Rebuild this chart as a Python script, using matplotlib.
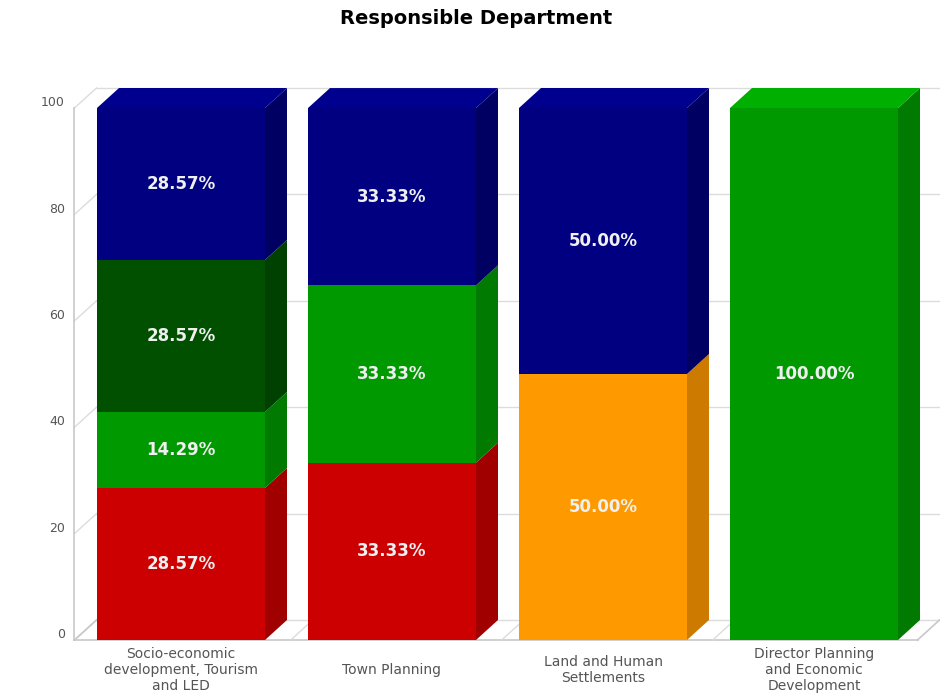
import numpy as np
import matplotlib.pyplot as plt
from matplotlib.patches import Polygon, Rectangle

# Datos del grafico (porcentajes apilados por departamento)
categories = [
    "Socio-economic\ndevelopment, Tourism\nand LED",
    "Town Planning",
    "Land and Human\nSettlements",
    "Director Planning\nand Economic\nDevelopment",
]
red_vals = [28.57, 33.33, 0.0, 0.0]
orange_vals = [0.0, 0.0, 50.00, 0.0]
green_vals = [14.29, 33.33, 0.0, 100.00]
darkgreen_vals = [28.57, 0.0, 0.0, 0.0]
navy_vals = [28.57, 33.33, 50.00, 0.0]
y_ticks = [0, 20, 40, 60, 80, 100]

# (frente, lado, tapa)
series = [
    (red_vals, "#CC0000", "#A00000", "#E00000"),
    (orange_vals, "#FF9900", "#CC7A00", "#FFAA22"),
    (green_vals, "#009900", "#007A00", "#00B000"),
    (darkgreen_vals, "#005000", "#004000", "#006000"),
    (navy_vals, "#000080", "#000062", "#00008F"),
]

W, H = 940, 694
fig = plt.figure(figsize=(W / 100, H / 100), dpi=100)
ax = fig.add_axes([0, 0, 1, 1])

# escalas: categoria i centrada en i, 211 px por categoria, 5.32 px por unidad
px_x, px_y = 211.0, 5.32
x0_px, y0_px = 181.0, 640.0
ax.set_xlim(-x0_px / px_x, (W - x0_px) / px_x)
ax.set_ylim(-(H - y0_px) / px_y, y0_px / px_y)
ax.axis("off")

bar_w = 168 / px_x
dx = 22 / px_x
dy = 20 / px_y
left = -0.5 - 1 / px_x
right = 3.5 - 2 / px_x
grid_c = "#DCDCDC"
edge_c = "#C8C8C8"

# pared del fondo y rejilla
for v in y_ticks:
    ax.plot([left + dx, 3.6 + 1], [v + dy, v + dy], color=grid_c, lw=1, zorder=1)
    ax.plot([left, left + dx], [v, v + dy], color=grid_c, lw=1, zorder=1)
    ax.text(left - 0.045, v + 1, str(v), ha="right", va="center",
            fontsize=9, color="#555555")
ax.plot([left, left], [0, 100], color=edge_c, lw=1.2, zorder=1)
ax.plot([left, right], [0, 0], color=edge_c, lw=1.2, zorder=1)
ax.plot([right, right + dx], [0, dy], color=edge_c, lw=1.2, zorder=1)
ax.plot([left, left + dx], [0, dy], color=edge_c, lw=1.2, zorder=1)
for b in [0.5, 1.5, 2.5]:
    ax.plot([b + 0.02, b + 0.02 + dx], [0, dy], color=grid_c, lw=1, zorder=1)

# barras 3D
bottoms = np.zeros(len(categories))
tops_idx = {}
for k, (vals, front, side, top) in enumerate(series):
    for i, v in enumerate(vals):
        if v > 0:
            tops_idx[i] = k
for k, (vals, front, side, top) in enumerate(series):
    for i, v in enumerate(vals):
        if v <= 0:
            continue
        b = bottoms[i]
        t = b + v
        xl, xr = i - bar_w / 2, i + bar_w / 2
        ax.add_patch(Rectangle((xl, b), bar_w, v, facecolor=front,
                               edgecolor="none", zorder=3))
        ax.add_patch(Polygon([(xr, b), (xr + dx, b + dy), (xr + dx, t + dy), (xr, t)],
                             closed=True, facecolor=side, edgecolor="none", zorder=3))
        if tops_idx[i] == k:
            ax.add_patch(Polygon([(xl, t), (xl + dx, t + dy), (xr + dx, t + dy), (xr, t)],
                                 closed=True, facecolor=top, edgecolor="none", zorder=3))
        ax.text(i, b + v / 2, f"{v:.2f}%", ha="center", va="center",
                fontsize=12, fontweight="bold", color="#F0F0F0", zorder=5)
        bottoms[i] = t

for i, lab in enumerate(categories):
    ax.text(i, -5.64, lab, ha="center", va="center", fontsize=10,
            color="#555555", linespacing=1.2)

fig.text(476 / W, 1 - 18 / H, "Responsible Department", ha="center", va="center",
         fontsize=14, fontweight="bold", color="#000000")

fig.savefig("out.png", dpi=100)
